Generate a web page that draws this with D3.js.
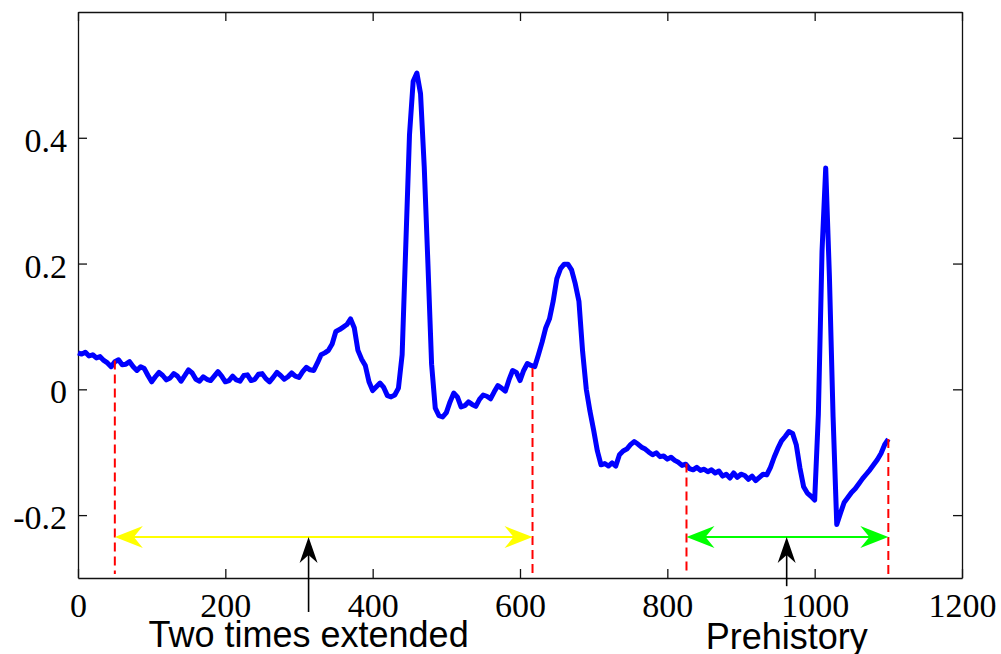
<!DOCTYPE html>
<html>
<head>
<meta charset="utf-8">
<script src="https://cdn.jsdelivr.net/npm/d3@7"></script>
<style>
  body { margin: 0; background: #fff; }
  svg { display: block; }
</style>
</head>
<body>
<svg width="1001" height="654"></svg>
<script>
// signal sampled every 5 units, split into runs
const sampleStep = 5
const quietRun = [ // 0 - 330
  0.058, 0.056, 0.059, 0.053, 0.055, 0.050, 0.052, 0.046, 0.042, 0.036,
  0.044, 0.047, 0.039, 0.040, 0.044, 0.036, 0.030, 0.036, 0.033, 0.022,
  0.012, 0.020, 0.027, 0.022, 0.015, 0.018, 0.025, 0.021, 0.013, 0.022,
  0.031, 0.026, 0.016, 0.013, 0.020, 0.016, 0.014, 0.021, 0.028, 0.021,
  0.012, 0.014, 0.021, 0.015, 0.013, 0.022, 0.023, 0.014, 0.016, 0.024,
  0.025, 0.017, 0.012, 0.019, 0.027, 0.022, 0.016, 0.020, 0.026, 0.021,
  0.019, 0.028, 0.035, 0.031, 0.030, 0.042, 0.055
]
const firstBeat = [ // 335 - 620
  0.058, 0.062, 0.072, 0.092, 0.095, 0.099, 0.103, 0.112, 0.098, 0.062,
  0.048, 0.038, 0.012, -0.002, 0.004, 0.010, 0.003, -0.010, -0.012, -0.009,
  0.002, 0.055, 0.230, 0.405, 0.490, 0.503, 0.470, 0.354, 0.200, 0.040,
  -0.030, -0.042, -0.044, -0.037, -0.020, -0.006, -0.012, -0.028, -0.026, -0.020,
  -0.024, -0.027, -0.016, -0.009, -0.011, -0.015, -0.004, 0.006, 0.002, -0.003,
  0.015, 0.030, 0.027, 0.014, 0.030, 0.041, 0.038, 0.036
]
const tWave = [ // 625 - 1000
  0.055, 0.075, 0.098, 0.112, 0.140, 0.176, 0.192, 0.199, 0.199, 0.190,
  0.168, 0.140, 0.060, 0.000, -0.035, -0.065, -0.098, -0.120, -0.118, -0.122,
  -0.117, -0.122, -0.104, -0.098, -0.095, -0.088, -0.083, -0.087, -0.092, -0.095,
  -0.100, -0.104, -0.101, -0.107, -0.106, -0.111, -0.108, -0.113, -0.116, -0.121,
  -0.119, -0.126, -0.128, -0.124, -0.129, -0.127, -0.131, -0.128, -0.133, -0.130,
  -0.138, -0.135, -0.141, -0.133, -0.140, -0.135, -0.137, -0.143, -0.138, -0.145,
  -0.140, -0.135, -0.136, -0.124, -0.108, -0.094, -0.082, -0.075, -0.067, -0.070,
  -0.088, -0.125, -0.155, -0.165, -0.170, -0.176
]
const secondBeat = [ // 1005 - 1100
  -0.040, 0.220, 0.352, 0.180, -0.044, -0.215, -0.197, -0.180, -0.172, -0.164,
  -0.158, -0.150, -0.142, -0.135, -0.128, -0.120, -0.112, -0.102, -0.088, -0.079
]
const signal = [...quietRun, ...firstBeat, ...tWave, ...secondBeat]

const xTicks = [0, 200, 400, 600, 800, 1000, 1200]
const yTicks = [-0.2, 0, 0.2, 0.4]
const yTickLabels = ['-0.2', '0', '0.2', '0.4']

// red dashed markers
const markerX = [50, 617, 826, 1100]
const markerTop = [0.046, 0.034, -0.118, -0.079]

// double arrows
const spanStart = [50, 826]
const spanEnd = [617, 1100]
const spanY = -0.235
const spanColor = ['#ffff00', '#00ff00']

// pointers + captions
const pointerX = [313, 962]
const pointerEnd = [-0.354, -0.313]
const captions = ['Two times extended', 'Prehistory']
const captionBase = [647, 649]

const svg = d3.select('svg')
const padLeft = 78, padRight = 962, padTop = 12, padBottom = 578

const x = d3.scaleLinear().domain([0, 1200]).range([padLeft, padRight])
const y = d3.scaleLinear().domain([-0.3, 0.6]).range([padBottom, padTop])

// axes box, ticks pointing in
const axisFont = '"Liberation Serif", "Times New Roman", serif'
svg.append('g')
  .attr('transform', `translate(0,${padBottom})`)
  .call(d3.axisBottom(x).tickValues(xTicks).tickSize(-9).tickSizeOuter(0).tickPadding(15)
    .tickFormat(d => String(d)))
svg.append('g')
  .attr('transform', `translate(0,${padTop})`)
  .call(d3.axisTop(x).tickValues(xTicks).tickSize(-9).tickSizeOuter(0).tickFormat(''))
const leftAxis = svg.append('g')
  .attr('transform', `translate(${padLeft},0)`)
  .call(d3.axisLeft(y).tickValues(yTicks).tickSize(-9).tickSizeOuter(0).tickPadding(11)
    .tickFormat((d, i) => yTickLabels[i]))
svg.append('g')
  .attr('transform', `translate(${padRight},0)`)
  .call(d3.axisRight(y).tickValues(yTicks).tickSize(-9).tickSizeOuter(0).tickFormat(''))

svg.selectAll('.domain, .tick line').attr('stroke', '#111').attr('stroke-width', 1.3)
svg.selectAll('.tick text')
  .attr('font-family', axisFont)
  .attr('font-size', 34)
  .attr('fill', '#000')
leftAxis.selectAll('.tick text').attr('dy', '0.4em')

// signal
const line = d3.line()
  .x((d, i) => x(i * sampleStep))
  .y(d => y(d))
svg.append('path')
  .datum(signal)
  .attr('d', line)
  .attr('fill', 'none')
  .attr('stroke', '#0000ff')
  .attr('stroke-width', 5)
  .attr('stroke-linejoin', 'round')

// dashed markers
svg.selectAll('.marker')
  .data(markerX)
  .enter()
  .append('line')
  .attr('x1', d => x(d))
  .attr('x2', d => x(d))
  .attr('y1', (d, i) => y(markerTop[i]))
  .attr('y2', y(-0.3) - 4)
  .attr('stroke', '#ff0000')
  .attr('stroke-width', 2)
  .attr('stroke-dasharray', '9,5')

// arrow head: tip (tx,ty), (ux,uy) points back along the shaft
function head(tx, ty, ux, uy, len, half, back) {
  const px = -uy, py = ux
  const bx = tx + ux * len, by = ty + uy * len
  return `M${tx},${ty}L${bx + px * half},${by + py * half}` +
    `L${tx + ux * back},${ty + uy * back}L${bx - px * half},${by - py * half}Z`
}

spanStart.forEach((s, i) => {
  const x0 = x(s), x1 = x(spanEnd[i]), yy = y(spanY)
  svg.append('line')
    .attr('x1', x0 + 10).attr('x2', x1 - 10)
    .attr('y1', yy).attr('y2', yy)
    .attr('stroke', spanColor[i])
    .attr('stroke-width', 2)
  svg.append('path').attr('d', head(x0, yy, 1, 0, 28, 11, 19)).attr('fill', spanColor[i])
  svg.append('path').attr('d', head(x1, yy, -1, 0, 28, 11, 19)).attr('fill', spanColor[i])
})

pointerX.forEach((p, i) => {
  const px = x(p), yTip = y(spanY)
  svg.append('line')
    .attr('x1', px).attr('x2', px)
    .attr('y1', yTip + 10).attr('y2', y(pointerEnd[i]))
    .attr('stroke', '#000')
    .attr('stroke-width', 1.6)
  svg.append('path').attr('d', head(px, yTip, 0, 1, 26, 9, 18)).attr('fill', '#000')
  svg.append('text')
    .attr('x', px)
    .attr('y', captionBase[i])
    .attr('text-anchor', 'middle')
    .attr('font-family', '"Liberation Sans", Arial, sans-serif')
    .attr('font-size', 36)
    .attr('fill', '#000')
    .text(captions[i])
})
</script>
</body>
</html>
